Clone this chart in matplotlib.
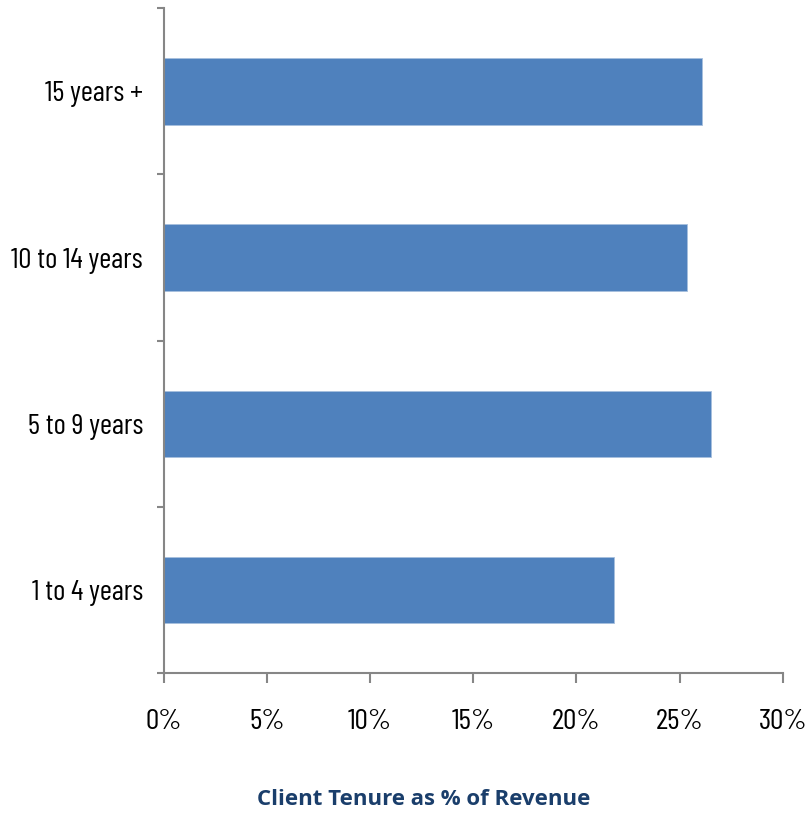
import matplotlib
matplotlib.use("Agg")
import matplotlib.pyplot as plt
from matplotlib.ticker import FixedLocator, FuncFormatter

categories = ["1 to 4 years", "5 to 9 years", "10 to 14 years", "15 years +"]
values = [21.8, 26.5, 25.35, 26.1]
xticks = [0, 5, 10, 15, 20, 25, 30]
xlabel = "Client Tenure as % of Revenue"

tick_font = ["Barlow Condensed", "DejaVu Sans"]

fig = plt.figure(figsize=(8.07, 8.13), dpi=100)
ax = fig.add_axes([0.203, 0.172, 0.767, 0.818])

pos = list(range(len(categories)))
ax.barh(pos, values, height=0.4, color="#4F81BD", edgecolor="#A7BFDE", linewidth=0.6)

ax.set_xlim(0, 30)
ax.set_ylim(-0.5, len(categories) - 0.5)

gray = "#868686"
for s in ["top", "right"]:
    ax.spines[s].set_visible(False)
for s in ["left", "bottom"]:
    ax.spines[s].set_color(gray)
    ax.spines[s].set_linewidth(1.5)

ax.xaxis.set_major_locator(FixedLocator(xticks))
ax.xaxis.set_major_formatter(FuncFormatter(lambda v, p: f"{int(v)}%"))
ax.tick_params(axis="x", which="major", direction="out", length=7.5, width=1.5, color=gray,
               pad=18, labelsize=21.5, labelcolor="black")

ax.yaxis.set_major_locator(FixedLocator([p - 0.5 for p in pos] + [pos[-1] + 0.5]))
ax.yaxis.set_major_formatter(FuncFormatter(lambda v, p: ""))
ax.yaxis.set_minor_locator(FixedLocator(pos))
ax.set_yticklabels(categories, minor=True)
ax.tick_params(axis="y", which="major", direction="out", length=5, width=1.5, color=gray)
ax.tick_params(axis="y", which="minor", length=0, pad=15, labelsize=21, labelcolor="black")

for lab in ax.get_xticklabels() + ax.get_yticklabels(minor=True):
    lab.set_fontfamily(tick_font)

fig.text(0.525, 0.016, xlabel, ha="center", va="center", fontsize=16, fontweight="bold",
         color="#1A3E6B", family=["Open Sans", "DejaVu Sans"])

fig.savefig("out.png", dpi=100)
